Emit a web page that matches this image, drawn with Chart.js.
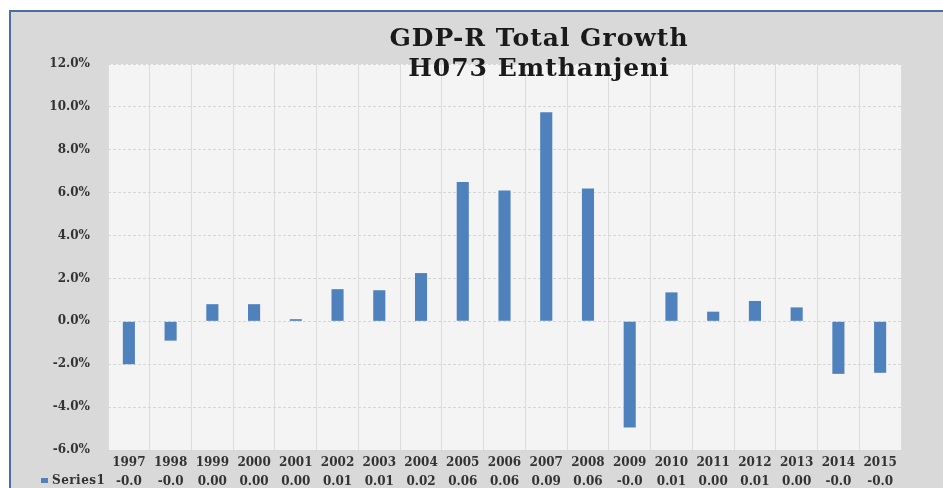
<!DOCTYPE html>
<html>
<head>
<meta charset="utf-8">
<script src="https://cdn.jsdelivr.net/npm/chart.js@4"></script>
<style>
html,body{margin:0;padding:0;background:#fff;overflow:hidden;}
#wrap{position:relative;width:943px;height:488px;}
</style>
</head>
<body>
<div id="wrap"><canvas id="c"></canvas></div>
<script>
// data
var years=["1997","1998","1999","2000","2001","2002","2003","2004","2005","2006","2007","2008","2009","2010","2011","2012","2013","2014","2015"];
var growth=[-2.0,-0.9,0.8,0.8,0.1,1.5,1.45,2.25,6.5,6.1,9.75,6.2,-4.95,1.35,0.45,0.95,0.65,-2.45,-2.4];
var tableVals=["-0.0","-0.0","0.00","0.00","0.00","0.01","0.01","0.02","0.06","0.06","0.09","0.06","-0.0","0.01","0.00","0.01","0.00","-0.0","-0.0"];
var titleLines=["GDP-R Total Growth","H073 Emthanjeni"];
var seriesName="Series1";

var BAR="#4f81bd";
var FONT="'DejaVu Serif'";
var TXT="#333333";

// frame, grey background, plot fill, title and table key
var deco={
  id:"deco",
  beforeDraw:function(ch){
    var x=ch.ctx,a=ch.chartArea;
    x.save();
    x.fillStyle="#fff";x.fillRect(0,0,ch.width,ch.height);
    x.fillStyle="#d9d9d9";x.fillRect(10,11,ch.width-10,ch.height-11);
    x.fillStyle="#4a6fa5";
    x.fillRect(9,10,2,ch.height-10);
    x.fillRect(9,10,ch.width-9,2);
    x.fillStyle="#f4f4f4";x.fillRect(a.left,a.top,a.right-a.left,a.bottom-a.top);
    x.restore();
  },
  afterDraw:function(ch){
    var x=ch.ctx;
    x.save();
    x.fillStyle="#1a1a1a";
    x.font="bold 25px "+FONT;
    x.letterSpacing="1px";
    x.textAlign="center";x.textBaseline="middle";
    x.fillText(titleLines[0],539,39);
    x.fillText(titleLines[1],539,69);
    // data table key
    x.letterSpacing="0.5px";
    x.fillStyle=BAR;x.fillRect(41,478,7,5);
    x.fillStyle=TXT;
    x.font="bold 12px "+FONT;
    x.textAlign="left";
    x.fillText(seriesName,52,481);
    x.restore();
  }
};

new Chart(document.getElementById("c"),{
  type:"bar",
  data:{
    labels:years.map(function(y,i){return [y,tableVals[i]];}),
    datasets:[{
      label:seriesName,
      data:growth,
      backgroundColor:BAR,
      borderWidth:0,
      barPercentage:0.29,
      categoryPercentage:1
    }]
  },
  options:{
    responsive:true,
    maintainAspectRatio:false,
    animation:false,
    devicePixelRatio:1,
    layout:{padding:{left:11,right:42,top:64,bottom:0}},
    plugins:{legend:{display:false},tooltip:{enabled:false},title:{display:false}},
    scales:{
      x:{
        grid:{color:"#dcdcdc",lineWidth:1,drawTicks:false,offset:true},
        border:{display:false},
        ticks:{color:TXT,font:{family:FONT,size:12,weight:"bold",lineHeight:1.55},padding:4,maxRotation:0,autoSkip:false},
        afterFit:function(s){s.height=38;}
      },
      y:{
        min:-6,max:12,
        grid:{color:"#d6d6d6",lineWidth:1,drawTicks:false},
        border:{display:false,dash:[3,2]},
        ticks:{stepSize:2,color:TXT,font:{family:FONT,size:12,weight:"bold"},padding:18,
          callback:function(v){return v.toFixed(1)+"%";}},
        afterFit:function(s){s.width=97;}
      }
    }
  },
  plugins:[deco]
});
</script>
</body>
</html>
